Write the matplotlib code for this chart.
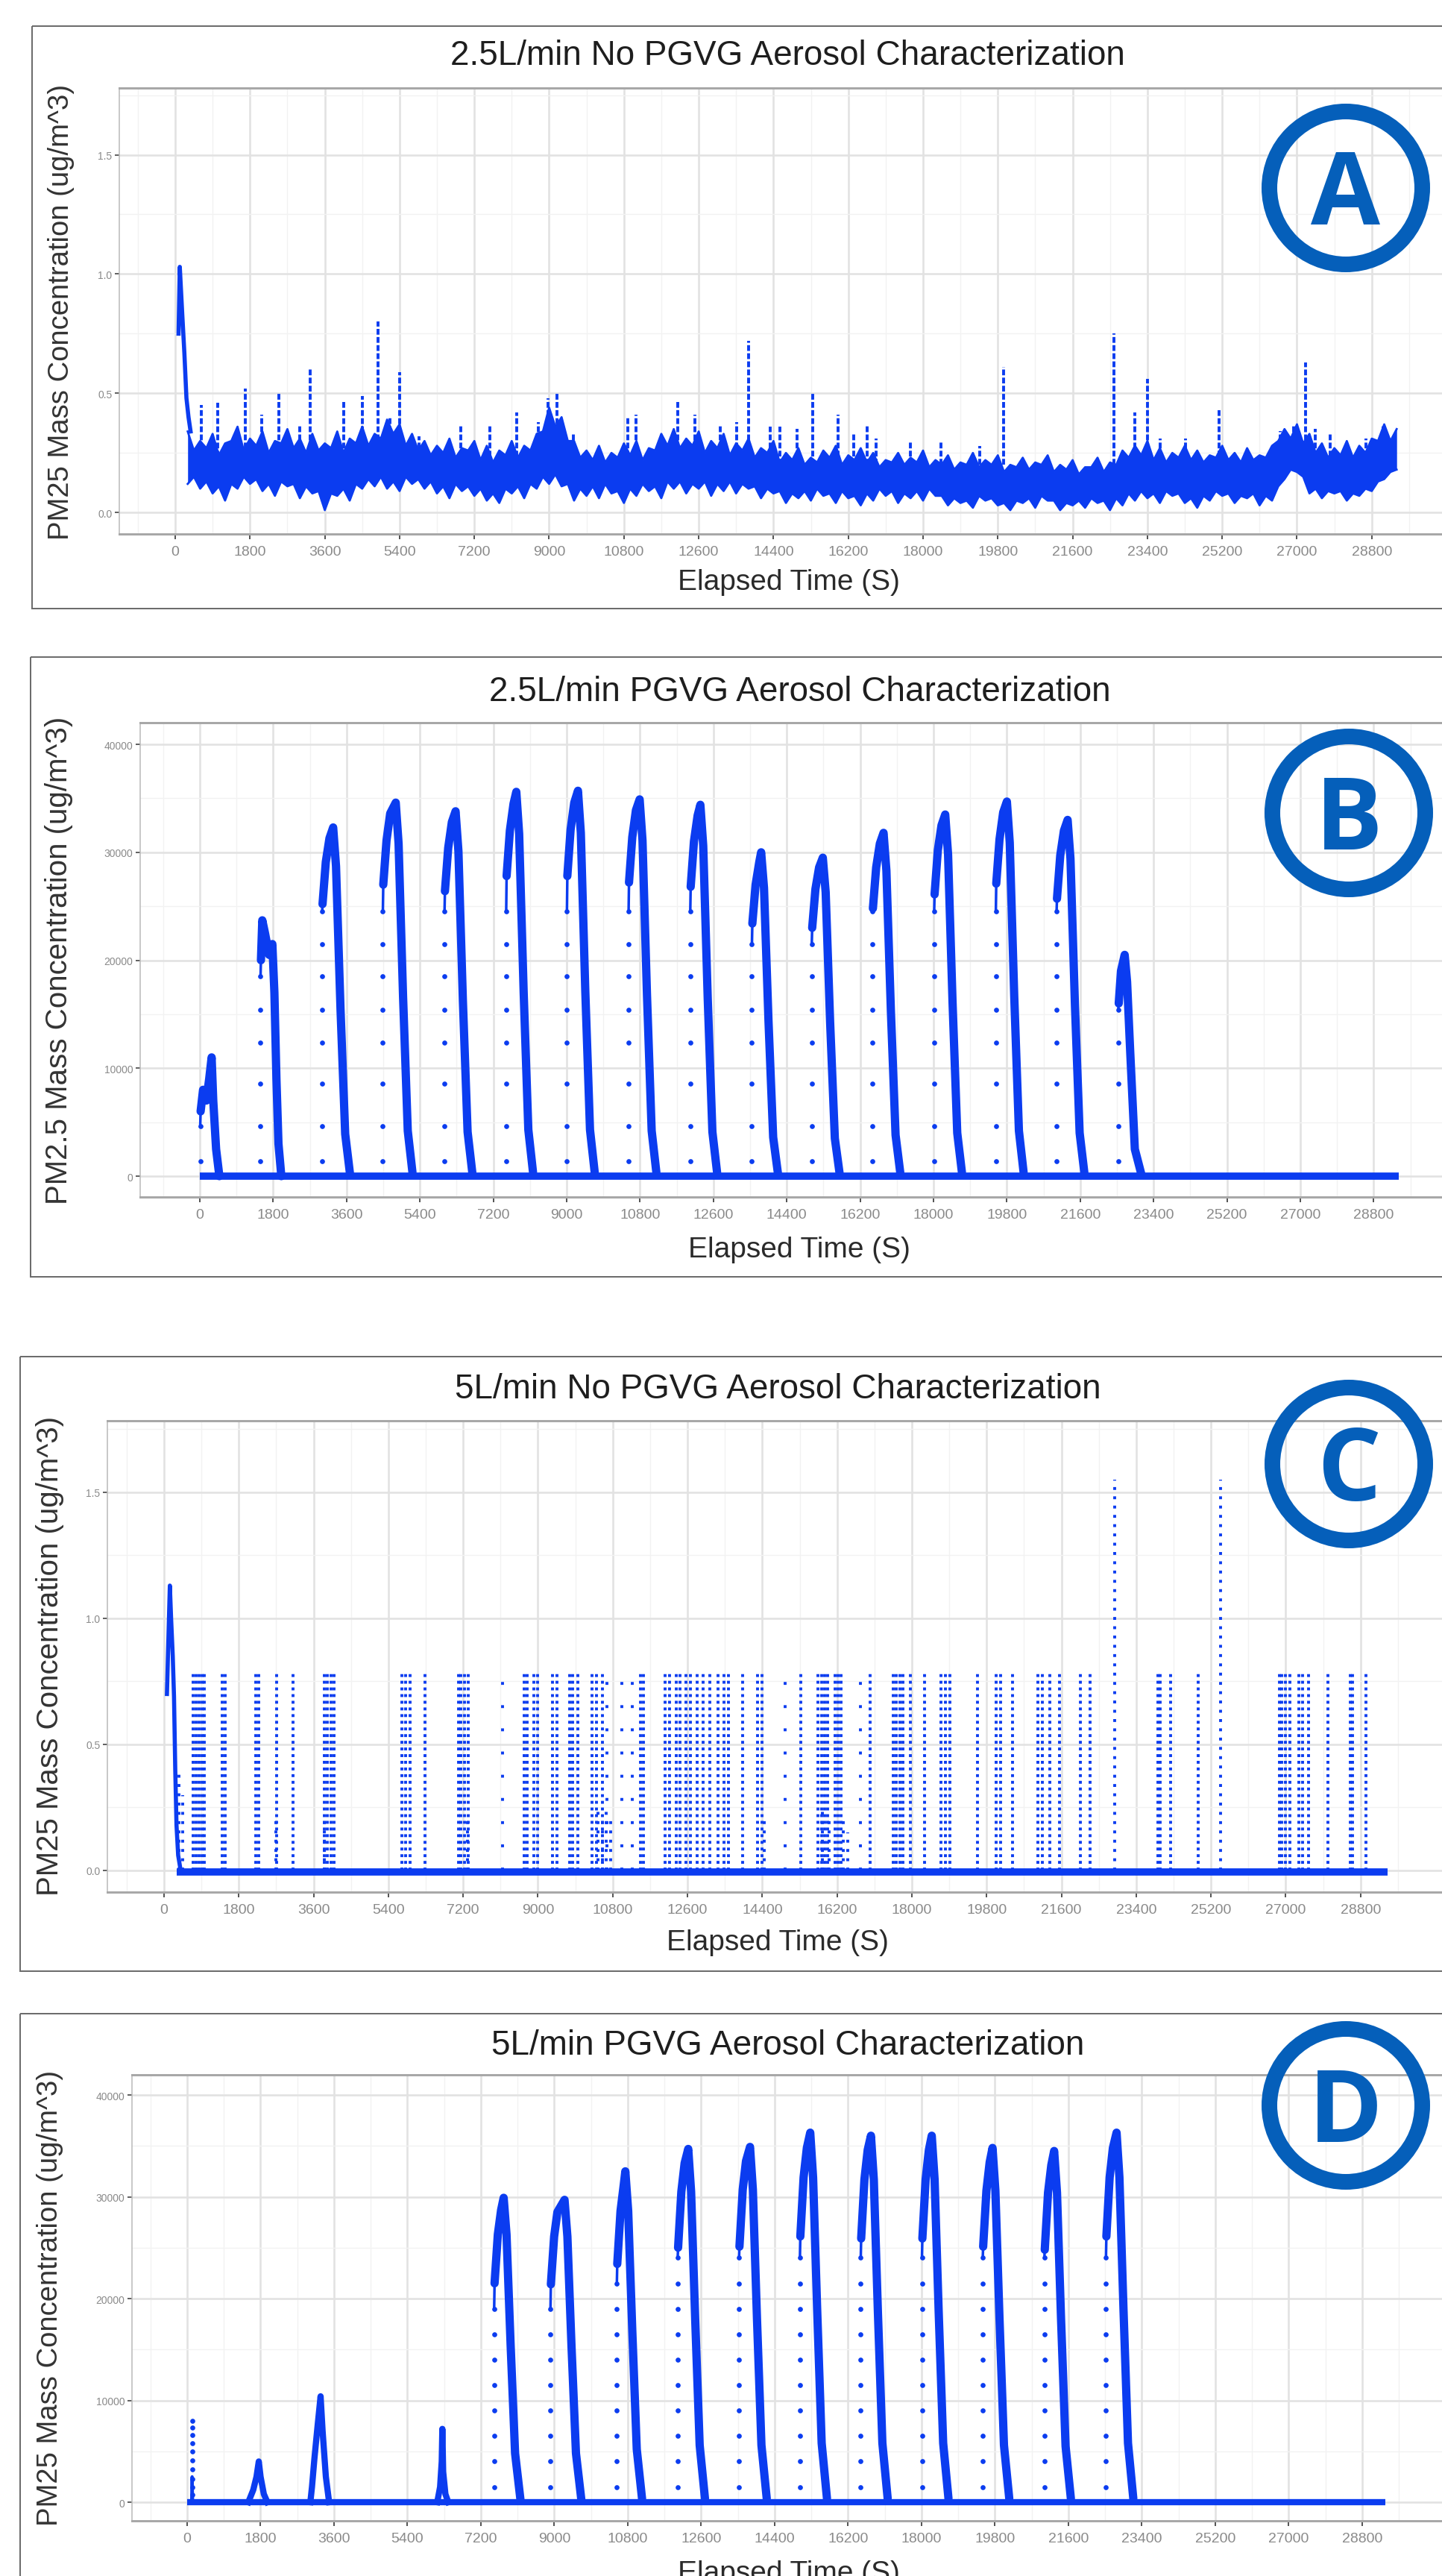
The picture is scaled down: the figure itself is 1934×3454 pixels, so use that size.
import numpy as np
import matplotlib.pyplot as plt
from matplotlib.patches import Circle, Rectangle

plt.rcParams['font.family'] = ['Liberation Sans', 'DejaVu Sans']

W, H = 1934, 3455
DPI = 100
PT = 72.0 / DPI          # points per pixel
BLUE = '#0b3cf0'
RING = '#055fba'

# ---- shared axis ticks ----
x_ticks = list(range(0, 28801, 1800))
x_labels = [str(v) for v in x_ticks]
x_minor = [-900] + [900 + 1800 * i for i in range(17)]

# ---- panel A: 2.5L/min no PGVG (band of noise + spikes) ----
# band read at every 300 s, plus the in-between readings at the half steps
a_t = np.arange(300, 29401, 300)
a_hi = [0.34, 0.30, 0.33, 0.29, 0.36, 0.31, 0.34, 0.30, 0.35, 0.31,
        0.33, 0.29, 0.34, 0.31, 0.36, 0.33, 0.39, 0.37, 0.33, 0.30,
        0.28, 0.31, 0.27, 0.30, 0.28, 0.26, 0.30, 0.28, 0.33, 0.44,
        0.40, 0.30, 0.26, 0.28, 0.25, 0.29, 0.30, 0.27, 0.33, 0.35,
        0.31, 0.34, 0.30, 0.33, 0.29, 0.31, 0.27, 0.30, 0.25, 0.27,
        0.23, 0.26, 0.28, 0.24, 0.27, 0.25, 0.22, 0.25, 0.23, 0.26,
        0.22, 0.24, 0.21, 0.25, 0.22, 0.24, 0.20, 0.23, 0.21, 0.24,
        0.20, 0.22, 0.19, 0.23, 0.21, 0.26, 0.28, 0.30, 0.27, 0.25,
        0.28, 0.26, 0.24, 0.28, 0.25, 0.27, 0.24, 0.28, 0.35, 0.37,
        0.33, 0.29, 0.27, 0.30, 0.28, 0.31, 0.37, 0.35]
a_lo = [0.12, 0.10, 0.08, 0.05, 0.10, 0.12, 0.09, 0.07, 0.11, 0.06,
        0.08, 0.01, 0.07, 0.05, 0.10, 0.11, 0.10, 0.09, 0.12, 0.10,
        0.08, 0.06, 0.09, 0.07, 0.05, 0.04, 0.08, 0.06, 0.10, 0.12,
        0.11, 0.05, 0.07, 0.06, 0.08, 0.04, 0.07, 0.09, 0.06, 0.10,
        0.08, 0.10, 0.07, 0.09, 0.08, 0.10, 0.06, 0.08, 0.04, 0.06,
        0.05, 0.07, 0.04, 0.06, 0.03, 0.05, 0.07, 0.04, 0.06, 0.05,
        0.07, 0.03, 0.04, 0.02, 0.05, 0.03, 0.01, 0.04, 0.02, 0.05,
        0.01, 0.03, 0.02, 0.04, 0.01, 0.03, 0.05, 0.06, 0.04, 0.07,
        0.04, 0.02, 0.05, 0.07, 0.04, 0.06, 0.03, 0.05, 0.14, 0.17,
        0.08, 0.06, 0.08, 0.05, 0.07, 0.09, 0.14, 0.18]
a_t2 = np.arange(450, 29251, 300)
a_hi2 = [0.26, 0.27, 0.24, 0.30, 0.26, 0.28, 0.25, 0.29, 0.27, 0.25,
         0.26, 0.27, 0.25, 0.29, 0.28, 0.31, 0.33, 0.28, 0.26, 0.24,
         0.25, 0.23, 0.26, 0.22, 0.21, 0.24, 0.23, 0.26, 0.34, 0.36,
         0.30, 0.23, 0.22, 0.21, 0.23, 0.24, 0.22, 0.26, 0.28, 0.27,
         0.28, 0.25, 0.27, 0.24, 0.26, 0.23, 0.25, 0.21, 0.22, 0.20,
         0.21, 0.23, 0.20, 0.22, 0.21, 0.19, 0.21, 0.20, 0.21, 0.19,
         0.20, 0.18, 0.20, 0.19, 0.20, 0.17, 0.19, 0.18, 0.20, 0.17,
         0.18, 0.16, 0.19, 0.17, 0.20, 0.23, 0.24, 0.22, 0.21, 0.23,
         0.22, 0.21, 0.23, 0.22, 0.21, 0.22, 0.23, 0.30, 0.31, 0.29,
         0.25, 0.23, 0.24, 0.23, 0.25, 0.30, 0.30]
a_lo2 = [0.15, 0.13, 0.11, 0.12, 0.15, 0.14, 0.12, 0.13, 0.12, 0.11,
         0.09, 0.08, 0.10, 0.12, 0.14, 0.15, 0.13, 0.15, 0.14, 0.13,
         0.11, 0.12, 0.11, 0.10, 0.08, 0.10, 0.11, 0.12, 0.15, 0.16,
         0.12, 0.10, 0.11, 0.12, 0.09, 0.10, 0.12, 0.11, 0.13, 0.13,
         0.12, 0.13, 0.12, 0.13, 0.12, 0.11, 0.10, 0.09, 0.08, 0.09,
         0.10, 0.08, 0.09, 0.07, 0.08, 0.10, 0.09, 0.08, 0.09, 0.10,
         0.07, 0.06, 0.05, 0.07, 0.06, 0.04, 0.05, 0.06, 0.07, 0.05,
         0.04, 0.05, 0.06, 0.05, 0.06, 0.08, 0.09, 0.08, 0.09, 0.08,
         0.06, 0.07, 0.09, 0.08, 0.07, 0.08, 0.07, 0.11, 0.18, 0.15,
         0.10, 0.09, 0.09, 0.08, 0.10, 0.13, 0.17]
a_init_t = [80, 110, 125, 170, 220, 270, 320, 370]
a_init_v = [0.75, 1.03, 0.98, 0.83, 0.67, 0.48, 0.40, 0.34]
a_spike_t = [624, 1027, 1682, 2084, 2487, 2991, 3242, 4048, 4501, 4874,
             5176, 5407, 5861, 6868, 7573, 8227, 8731, 8982, 9184, 9587,
             10896, 11097, 12104, 12507, 13111, 13514, 13796, 14320, 14550, 14959,
             15337, 15961, 16340, 16646, 16872, 17700, 18437, 19357, 19941, 22600,
             23091, 23398, 23705, 24319, 25117, 26600, 26927, 27204, 27439, 27797,
             28667, 29076]
a_spike_v = [0.45, 0.46, 0.52, 0.41, 0.50, 0.37, 0.60, 0.47, 0.49, 0.80,
             0.40, 0.59, 0.32, 0.37, 0.37, 0.42, 0.38, 0.48, 0.50, 0.33,
             0.40, 0.41, 0.47, 0.41, 0.37, 0.38, 0.72, 0.36, 0.36, 0.35,
             0.50, 0.41, 0.33, 0.37, 0.31, 0.30, 0.30, 0.28, 0.61, 0.75,
             0.42, 0.56, 0.31, 0.31, 0.43, 0.34, 0.37, 0.63, 0.35, 0.33,
             0.31, 0.37]

# ---- panel B: 2.5L/min PGVG (puff peaks) ----
b_base_t = [0, 29420]
b_base_v = [0, 0]
b_rise_t = [10, 1490, 3001, 4491, 6004, 7517, 9007, 10520, 12033, 13546,
            15014, 16504, 18017, 19530, 21020, 22533]
b_rise_dots = [1400, 4600, 8600, 12400, 15400, 18500, 21500, 24500]
b_peak_t = [
    [20, 80, 160, 230, 290, 330, 400, 480],
    [1500, 1533, 1600, 1700, 1780, 1830, 1880, 1930, 2000],
    [3011, 3091, 3181, 3272, 3342, 3452, 3567, 3682],
    [4501, 4581, 4671, 4807, 4877, 4987, 5102, 5217],
    [6014, 6094, 6184, 6275, 6345, 6455, 6570, 6685],
    [7527, 7607, 7697, 7765, 7835, 7945, 8060, 8175],
    [9017, 9097, 9187, 9278, 9348, 9458, 9573, 9688],
    [10530, 10610, 10700, 10791, 10861, 10971, 11086, 11201],
    [12043, 12123, 12213, 12281, 12351, 12461, 12576, 12691],
    [13556, 13636, 13726, 13772, 13842, 13952, 14067, 14182],
    [15024, 15104, 15194, 15285, 15355, 15465, 15580, 15695],
    [16514, 16594, 16684, 16775, 16845, 16955, 17070, 17185],
    [18027, 18107, 18197, 18288, 18358, 18468, 18583, 18698],
    [19540, 19620, 19710, 19801, 19871, 19981, 20096, 20211],
    [21030, 21110, 21200, 21291, 21361, 21471, 21586, 21701],
    [22545, 22600, 22691, 22750, 22827, 22940, 23098],
]
b_peak_v = [
    [6000, 8000, 7000, 9000, 11000, 7000, 2500, 0],
    [20000, 23700, 22500, 20500, 21500, 17000, 9000, 3000, 0],
    [25200, 29100, 31300, 32300, 28700, 15500, 3900, 300],
    [27000, 31100, 33600, 34600, 30800, 16600, 4200, 350],
    [26400, 30400, 32800, 33800, 30100, 16200, 4100, 340],
    [27800, 32000, 34500, 35600, 31700, 17100, 4300, 360],
    [27800, 32100, 34600, 35700, 31800, 17100, 4300, 360],
    [27200, 31400, 33900, 34900, 31100, 16800, 4200, 350],
    [26800, 31000, 33400, 34400, 30600, 16500, 4100, 340],
    [23400, 27000, 29100, 30000, 26700, 14400, 3600, 300],
    [23000, 26600, 28600, 29500, 26300, 14200, 3500, 300],
    [24800, 28600, 30800, 31800, 28300, 15300, 3800, 320],
    [26100, 30200, 32500, 33500, 29800, 16100, 4000, 340],
    [27100, 31200, 33700, 34700, 30900, 16700, 4200, 350],
    [25700, 29700, 32000, 33000, 29400, 15800, 4000, 330],
    [16000, 19000, 20500, 18000, 11500, 2500, 200],
]

# ---- panel C: 5L/min no PGVG (flat with sensor steps) ----
c_base_t = [300, 29447]
c_base_v = [-0.005, -0.005]
c_init_t = [70, 110, 140, 170, 210, 240, 270, 300, 340, 400]
c_init_v = [0.70, 0.95, 1.13, 1.00, 0.85, 0.69, 0.40, 0.18, 0.06, 0.0]
c_line_t = [692, 772, 843, 913, 974, 1397, 1477, 2202, 2283, 2706,
            3109, 3864, 3934, 4015, 4095, 5727, 5807, 5928, 6281, 7086,
            7137, 7237, 7318, 8667, 8748, 8899, 9000, 9352, 9453, 9755,
            9836, 9956, 10309, 10409, 10560, 11467, 11547, 12051, 12172, 12323,
            12423, 12554, 12675, 12826, 12977, 13128, 13329, 13480, 13581, 13934,
            14286, 14387, 15330, 15739, 15821, 15892, 15964, 16148, 16230, 16302,
            16987, 17560, 17632, 17713, 17785, 17969, 18297, 18706, 18808, 18910,
            19575, 20036, 20138, 20424, 21038, 21140, 21314, 21550, 22061, 22286,
            23923, 23974, 24230, 24895, 26839, 26910, 26992, 27094, 27319, 27401,
            27555, 28015, 28547, 28608, 28936]
c_line_top = 0.79
c_tall_t = [22880, 25437]
c_tall_top = 1.55
c_sparse_t = [8144, 10661, 11014, 11265, 14941, 16762]
c_short_t = [350, 450, 2700, 3850, 7300, 10450, 10550, 10650, 10750, 14450,
             15850, 16000, 16350, 16450]
c_short_v = [0.40, 0.30, 0.20, 0.20, 0.20, 0.25, 0.22, 0.25, 0.20, 0.20,
             0.25, 0.22, 0.20, 0.15]

# ---- panel D: 5L/min PGVG (puff peaks) ----
d_base_t = [0, 29366]
d_base_v = [0, 0]
d_spike1_t = [110, 122, 135]
d_spike1_v = [0, 2500, 0]
d_spike1_dots = [700, 1500, 2300, 3200, 4100, 5000, 5800, 6600, 7300, 8000]
d_small_t = [[1500, 1620, 1700, 1756, 1800, 1880, 1966],
             [3020, 3060, 3120, 3200, 3271, 3320, 3400, 3480],
             [6130, 6200, 6240, 6255, 6275, 6330, 6400]]
d_small_v = [[0, 1200, 2500, 4000, 2500, 800, 0],
             [0, 1500, 4300, 7600, 10400, 7000, 2500, 0],
             [0, 1500, 4000, 7200, 3000, 800, 0]]
d_rise_t = [7525, 8905, 10532, 12023, 13527, 15019, 16510, 18010, 19500, 21010, 22520]
d_rise_dots = [1500, 4000, 6500, 9000, 11500, 14000, 16500, 19000, 21500, 24000]
d_peak_t = [
    [7535, 7615, 7695, 7758, 7828, 7928, 8038, 8168],
    [8915, 8995, 9075, 9250, 9320, 9420, 9530, 9660],
    [10542, 10622, 10702, 10740, 10810, 10910, 11020, 11150],
    [12033, 12113, 12193, 12282, 12352, 12452, 12562, 12692],
    [13537, 13617, 13697, 13796, 13866, 13966, 14076, 14206],
    [15029, 15109, 15189, 15272, 15342, 15442, 15552, 15682],
    [16520, 16600, 16680, 16760, 16830, 16930, 17040, 17170],
    [18020, 18100, 18180, 18250, 18320, 18420, 18530, 18660],
    [19510, 19590, 19670, 19740, 19810, 19910, 20020, 20150],
    [21020, 21100, 21180, 21250, 21320, 21420, 21530, 21660],
    [22530, 22610, 22690, 22780, 22850, 22950, 23060, 23190],
]
d_peak_v = [
    [21500, 26300, 28700, 29900, 26300, 15500, 4800, 300],
    [21400, 26100, 28500, 29700, 26100, 15400, 4800, 300],
    [23400, 28600, 31200, 32500, 28600, 16900, 5200, 330],
    [25000, 30500, 33300, 34700, 30500, 18000, 5600, 350],
    [25100, 30700, 33500, 34900, 30700, 18100, 5600, 350],
    [26100, 31900, 34800, 36300, 31900, 18900, 5800, 360],
    [25900, 31700, 34600, 36000, 31700, 18700, 5800, 360],
    [25900, 31700, 34600, 36000, 31700, 18700, 5800, 360],
    [25100, 30600, 33400, 34800, 30600, 18100, 5600, 350],
    [24800, 30400, 33100, 34500, 30400, 17900, 5500, 350],
    [26100, 31900, 34800, 36300, 31900, 18900, 5800, 360],
]

titles = ['2.5L/min No PGVG Aerosol Characterization',
          '2.5L/min PGVG Aerosol Characterization',
          '5L/min No PGVG Aerosol Characterization',
          '5L/min PGVG Aerosol Characterization']
ylabels = ['PM25 Mass Concentration (ug/m^3)',
           'PM2.5 Mass Concentration (ug/m^3)',
           'PM25 Mass Concentration (ug/m^3)',
           'PM25 Mass Concentration (ug/m^3)']
letters = ['A', 'B', 'C', 'D']


def make_axes(fig, left, top, bottom):
    # axes placed in pixel units, running off the right edge like the source
    return fig.add_axes([left / W, 1 - bottom / H, 1 - left / W, (bottom - top) / H])


def style(ax, xlim, ylim, yticks, ylab, yminor):
    ax.set_xlim(xlim)
    ax.set_ylim(ylim)
    ax.set_xticks(x_ticks)
    ax.set_xticklabels(x_labels)
    ax.set_xticks(x_minor, minor=True)
    ax.set_yticks(yticks)
    ax.set_yticklabels(ylab)
    ax.set_yticks(yminor, minor=True)
    ax.grid(which='major', color='#e2e2e2', lw=2.6 * PT)
    ax.grid(which='minor', color='#f2f2f2', lw=1.4 * PT)
    ax.set_axisbelow(True)
    ax.tick_params(which='minor', length=0)
    ax.tick_params(axis='x', which='major', length=5, width=1.3, color='#444444',
                   labelsize=14, labelcolor='#8a8a8a', pad=6)
    ax.tick_params(axis='y', which='major', length=4, width=1.2, color='#444444',
                   labelsize=10, labelcolor='#8a8a8a', pad=3)
    ax.spines['right'].set_visible(False)
    for s in ('top', 'bottom'):
        ax.spines[s].set_color('#a8a8a8')
        ax.spines[s].set_linewidth(3 * PT)
    ax.spines['left'].set_color('#b8b8b8')
    ax.spines['left'].set_linewidth(1.5 * PT)


def draw_peaks(ax, rise_t, rise_dots, peak_t, peak_v):
    for t0, ts, vs in zip(rise_t, peak_t, peak_v):
        dots = [v for v in rise_dots if v < vs[0]]
        ax.plot([t0] * len(dots), dots, 'o', ms=3.8, color=BLUE)
        ax.plot([t0, ts[0]], [dots[-1] if dots else 0, vs[0]], color=BLUE, lw=2.5)
        ax.plot(ts, vs, color=BLUE, lw=8, solid_joinstyle='round', solid_capstyle='round')


fig = plt.figure(figsize=(W / DPI, H / DPI), dpi=DPI)
fig.patch.set_facecolor('white')

small_ticks = [0, 0.5, 1.0, 1.5]
small_labs = ['0.0', '0.5', '1.0', '1.5']
small_minor = [0.25, 0.75, 1.25, 1.75]
big_ticks = [0, 10000, 20000, 30000, 40000]
big_labs = ['0', '10000', '20000', '30000', '40000']
big_minor = [5000, 15000, 25000, 35000]

# Panel A: interleave the full-step and half-step readings of the band
a_all_t = np.concatenate([a_t, a_t2])
order = np.argsort(a_all_t)
a_all_t = a_all_t[order]
a_all_hi = np.concatenate([a_hi, a_hi2])[order]
a_all_lo = np.concatenate([a_lo, a_lo2])[order]

axA = make_axes(fig, 160, 119, 717)
style(axA, (-1346, 30491), (-0.09, 1.78), small_ticks, small_labs, small_minor)
axA.fill_between(a_all_t, a_all_lo, a_all_hi, color=BLUE, lw=0)
axA.plot(a_all_t, a_all_hi, color=BLUE, lw=2)
axA.plot(a_all_t, a_all_lo, color=BLUE, lw=2)
axA.plot(a_init_t, a_init_v, color=BLUE, lw=4)
axA.vlines(a_spike_t, 0.2, a_spike_v, color=BLUE, lw=2.8, linestyles=[(0, (2, 0.8))])

# Panel B
axB = make_axes(fig, 188, 969.5, 1606)
style(axB, (-1463, 30476), (-1934, 42040), big_ticks, big_labs, big_minor)
axB.plot(b_base_t, b_base_v, color=BLUE, lw=7, solid_capstyle='butt')
draw_peaks(axB, b_rise_t, b_rise_dots, b_peak_t, b_peak_v)

# Panel C
axC = make_axes(fig, 144, 1906, 2538)
style(axC, (-1364, 30760), (-0.086, 1.784), small_ticks, small_labs, small_minor)
axC.plot(c_base_t, c_base_v, color=BLUE, lw=7, solid_capstyle='butt')
axC.plot(c_init_t, c_init_v, color=BLUE, lw=4)
axC.vlines(c_line_t, 0, c_line_top, color=BLUE, lw=2.8, linestyles=[(0, (1, 1.3))])
axC.vlines(c_tall_t, 0, c_tall_top, color=BLUE, lw=2.8, linestyles=[(0, (1, 2.2))])
axC.vlines(c_sparse_t, 0, c_line_top, color=BLUE, lw=2.8, linestyles=[(0, (1, 7))])
axC.vlines(c_short_t, 0, c_short_v, color=BLUE, lw=2.8, linestyles=[(0, (1, 2.2))])

# Panel D
axD = make_axes(fig, 177, 2783, 3381)
style(axD, (-1352, 30756), (-1830, 41980), big_ticks, big_labs, big_minor)
axD.plot(d_base_t, d_base_v, color=BLUE, lw=6, solid_capstyle='butt')
axD.plot(d_spike1_t, d_spike1_v, color=BLUE, lw=3)
axD.plot([d_spike1_t[1]] * len(d_spike1_dots), d_spike1_dots, 'o', ms=3.8, color=BLUE)
for ts, vs in zip(d_small_t, d_small_v):
    axD.plot(ts, vs, color=BLUE, lw=6, solid_joinstyle='round')
draw_peaks(axD, d_rise_t, d_rise_dots, d_peak_t, d_peak_v)

# overlay in pixel coordinates for frames, titles, labels and badges
ov = fig.add_axes([0, 0, 1, 1], zorder=10)
ov.set_xlim(0, W)
ov.set_ylim(H, 0)
ov.axis('off')
ov.patch.set_alpha(0)

frames = [(43, 36, 781), (41, 882, 831), (27, 1820, 824), (27, 2701, 900)]
for x0, y0, h in frames:
    ov.add_patch(Rectangle((x0, y0), 2100, h, fill=False, ec='#6c6c6c', lw=2 * PT))

title_pos = [(1056, 87), (1073, 940), (1043, 1875), (1057, 2755)]
xlab_pos = [(1058, 791), (1072, 1686), (1043, 2615), (1058, 3461)]
ylab_pos = [(82, 418, 27.5), (79, 1288, 29), (67, 2220, 29), (67, 3081, 27.5)]
badge_pos = [(1805, 253), (1809, 1091), (1809, 1964), (1805, 2824)]

for i in range(4):
    ov.text(title_pos[i][0], title_pos[i][1], titles[i], ha='center', va='baseline',
            fontsize=33, color='#1e1e1e')
    ov.text(xlab_pos[i][0], xlab_pos[i][1], 'Elapsed Time (S)', ha='center',
            va='baseline', fontsize=28, color='#2a2a2a')
    ov.text(ylab_pos[i][0], ylab_pos[i][1], ylabels[i], ha='center', va='center',
            rotation=90, fontsize=ylab_pos[i][2], color='#333333')
    cx, cy = badge_pos[i]
    ov.add_patch(Circle((cx, cy), 102.5, fill=False, ec=RING, lw=21 * PT))
    ov.text(cx, cy + 48, letters[i], ha='center', va='baseline', fontsize=97,
            fontweight='bold', color=RING, family=['Open Sans', 'DejaVu Sans'])

fig.savefig('out.png', dpi=DPI)
